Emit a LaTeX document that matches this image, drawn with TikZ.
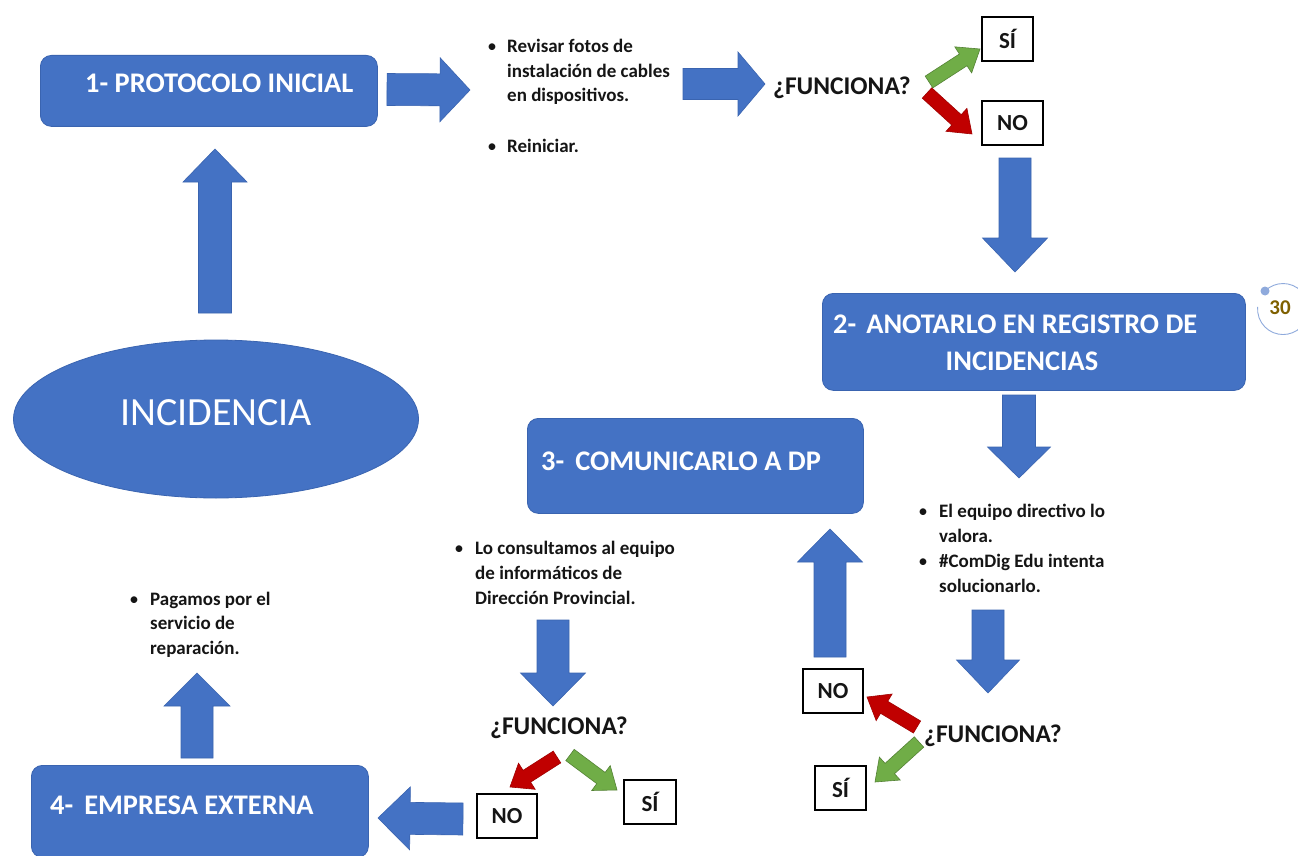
\documentclass[tikz,border=0pt]{standalone}
\usepackage{fontspec}
\setmainfont{Carlito}
\usetikzlibrary{calc,shapes.geometric}
\definecolor{bblue}{HTML}{4472C4}
\definecolor{bedge}{HTML}{3A64B0}
\definecolor{ggreen}{HTML}{70AD47}
\definecolor{gedge}{HTML}{548235}
\definecolor{rred}{HTML}{C00000}
\definecolor{redge}{HTML}{A00000}
\definecolor{pgnum}{HTML}{7F6000}
\definecolor{pgline}{HTML}{8FAADC}
\definecolor{ink}{HTML}{151515}
% #1 style, #2 from, #3 to, #4 half body, #5 half head, #6 head length
\newcommand\blockarrow[6]{%
  \coordinate (ba-h) at ($(#3)!#6pt!(#2)$);
  \path[#1] ($(#2)!#4pt!90:(#3)$) -- ($(ba-h)!#4pt!90:(#3)$) -- ($(ba-h)!#5pt!90:(#3)$) -- (#3)
    -- ($(ba-h)!#5pt!-90:(#3)$) -- ($(ba-h)!#4pt!-90:(#3)$) -- ($(#2)!#4pt!-90:(#3)$) -- cycle;
}
\tikzset{
  bluebox/.style={draw=bedge, line width=0.8pt, fill=bblue, rounded corners=11pt, anchor=north west, inner sep=0pt},
  boxtext/.style={font=\bfseries\fontsize{28.4}{34}\selectfont, text=white, inner sep=0pt, anchor=base west},
  answer/.style={draw=black, line width=1.3pt, fill=white, font=\bfseries\fontsize{23}{28}\selectfont, text=ink, inner sep=0pt},
  question/.style={font=\bfseries\fontsize{25.5}{30}\selectfont, text=ink, inner sep=0pt, anchor=base west},
  bline/.style={font=\bfseries\fontsize{19}{24}\selectfont, text=ink, inner sep=0pt, anchor=base west},
  bdot/.style={font=\fontsize{19}{24}\selectfont, text=ink, inner sep=0pt, anchor=base},
  barrow/.style={fill=bblue, draw=bedge, line width=0.6pt},
  garrow/.style={fill=ggreen, draw=gedge, line width=0.6pt},
  rarrow/.style={fill=rred, draw=redge, line width=0.6pt},
}
\begin{document}
\begin{tikzpicture}[x=1pt, y=-1pt]
\useasboundingbox (0,0) rectangle (1298,856);
\clip (0,0) rectangle (1298,856);
\fill[white] (0,0) rectangle (1298,856);

% ---------- main shapes ----------
\node[ellipse, draw=bedge, line width=0.8pt, fill=bblue, minimum width=405pt, minimum height=158pt, inner sep=0pt] (inc) at (216,419) {};
\node[font=\fontsize{40}{48}\selectfont, text=white, inner sep=0pt, anchor=base] (inct) at (216,425) {INCIDENCIA};

\node[bluebox, minimum width=337pt, minimum height=71pt] (p1) at (40,55) {};
\node[boxtext] (p1t) at (85,93) {1- PROTOCOLO INICIAL};

\node[bluebox, minimum width=423pt, minimum height=97pt] (p2) at (822,293) {};
\node[boxtext] (p2ta) at (833,333) {2-\hspace{10pt}ANOTARLO EN REGISTRO DE};
\node[boxtext, anchor=base] (p2tb) at (1022,370) {INCIDENCIAS};

\node[bluebox, minimum width=336pt, minimum height=95pt] (p3) at (527,418) {};
\node[boxtext] (p3t) at (541,470) {3-\hspace{11pt}COMUNICARLO A DP};

\node[bluebox, minimum width=337pt, minimum height=92pt] (p4) at (31,765) {};
\node[boxtext] (p4t) at (50,814) {4-\hspace{11pt}EMPRESA EXTERNA};

% ---------- questions and answers ----------
\node[question] (q1) at (773,95) {¿FUNCIONA?};
\node[answer, minimum width=51pt, minimum height=44pt] (s1) at (1007.5,39) {SÍ};
\node[answer, minimum width=61pt, minimum height=44pt] (n1) at (1012.5,123) {NO};

\node[question] (q2) at (924,742) {¿FUNCIONA?};
\node[answer, minimum width=60pt, minimum height=44pt] (n2) at (833,691) {NO};
\node[answer, minimum width=51pt, minimum height=44pt] (s2) at (840.5,788) {SÍ};

\node[question] (q3) at (490,734) {¿FUNCIONA?};
\node[answer, minimum width=60pt, minimum height=44pt] (n3) at (507,816) {NO};
\node[answer, minimum width=52pt, minimum height=44pt] (s3) at (650,802) {SÍ};

% ---------- bullet texts ----------
\node[bdot] (d1a) at (492,53) {•};
\node[bline] (l1a) at (507,53) {Revisar fotos de};
\node[bline] (l1b) at (507,77.5) {instalación de cables};
\node[bline] (l1c) at (507,102) {en dispositivos.};
\node[bdot] (d1b) at (492,153) {•};
\node[bline] (l1d) at (507,153) {Reiniciar.};

\node[bdot] (d2a) at (923,517) {•};
\node[bline] (l2a) at (939,517) {El equipo directivo lo};
\node[bline] (l2b) at (939,542) {valora.};
\node[bdot] (d2b) at (923,567) {•};
\node[bline] (l2c) at (939,567) {\#ComDig Edu intenta};
\node[bline] (l2d) at (939,592) {solucionarlo.};

\node[bdot] (d3a) at (459,554) {•};
\node[bline] (l3a) at (475,554) {Lo consultamos al equipo};
\node[bline] (l3b) at (475,579) {de informáticos de};
\node[bline] (l3c) at (475,604) {Dirección Provincial.};

\node[bdot] (d4a) at (134,605) {•};
\node[bline] (l4a) at (150,605) {Pagamos por el};
\node[bline] (l4b) at (150,629.5) {servicio de};
\node[bline] (l4c) at (150,654) {reparación.};

% ---------- page number ----------
\coordinate (pg) at (1283,309);
\node[font=\bfseries\fontsize{21}{24}\selectfont, text=pgnum, inner sep=0pt] (pgt) at (1280,308) {30};
\coordinate (pgdot) at ($(pg)+(-18,-18)$);
\draw[pgline, line width=0.9pt] (pgdot) arc[start angle=135, end angle=-185, radius=25.5pt];
\fill[pgline] (pgdot) circle (4.5pt);

% ---------- arrow end points ----------
\coordinate (a1s) at (215,313);  \coordinate (a1e) at (215,149);
\coordinate (a2s) at (387,89.5); \coordinate (a2e) at (470,90);
\coordinate (a3s) at (683,84);   \coordinate (a3e) at (765,84);
\coordinate (g1s) at (929,82);   \coordinate (g1e) at (980,49);
\coordinate (r1s) at (927,93);   \coordinate (r1e) at (972,134);
\coordinate (a4s) at (1015,158); \coordinate (a4e) at (1015,272);
\coordinate (a5s) at (1019,395); \coordinate (a5e) at (1019,478);
\coordinate (a6s) at (988,610);  \coordinate (a6e) at (988,693);
\coordinate (r2s) at (917,727);  \coordinate (r2e) at (867,697);
\coordinate (g2s) at (919,742);  \coordinate (g2e) at (875,782);
\coordinate (a7s) at (830,657);  \coordinate (a7e) at (830,529);
\coordinate (a8s) at (553,620);  \coordinate (a8e) at (553,706);
\coordinate (r3s) at (557,757);  \coordinate (r3e) at (510,787);
\coordinate (g3s) at (570,755);  \coordinate (g3e) at (617,790);
\coordinate (a9s) at (463,819);  \coordinate (a9e) at (378,818);
\coordinate (a10s) at (197,758); \coordinate (a10e) at (197,673);

\blockarrow{barrow}{a1s}{a1e}{16.5}{32}{33}
\blockarrow{barrow}{a2s}{a2e}{16}{32}{30}
\blockarrow{barrow}{a3s}{a3e}{15.5}{32}{27}
\blockarrow{garrow}{g1s}{g1e}{7}{15.5}{20}
\blockarrow{rarrow}{r1s}{r1e}{7}{15.5}{21}
\blockarrow{barrow}{a4s}{a4e}{16}{32.5}{34}
\blockarrow{barrow}{a5s}{a5e}{16.5}{31.5}{31}
\blockarrow{barrow}{a6s}{a6e}{16}{31.5}{33}
\blockarrow{rarrow}{r2s}{r2e}{7}{15.5}{20}
\blockarrow{garrow}{g2s}{g2e}{7}{15.5}{20}
\blockarrow{barrow}{a7s}{a7e}{16}{32.5}{33}
\blockarrow{barrow}{a8s}{a8e}{16}{32.5}{33}
\blockarrow{rarrow}{r3s}{r3e}{7}{15.5}{20}
\blockarrow{garrow}{g3s}{g3e}{7}{15.5}{20}
\blockarrow{barrow}{a9s}{a9e}{16}{31.5}{32}
\blockarrow{barrow}{a10s}{a10e}{16}{33}{33}
\end{tikzpicture}
\end{document}
